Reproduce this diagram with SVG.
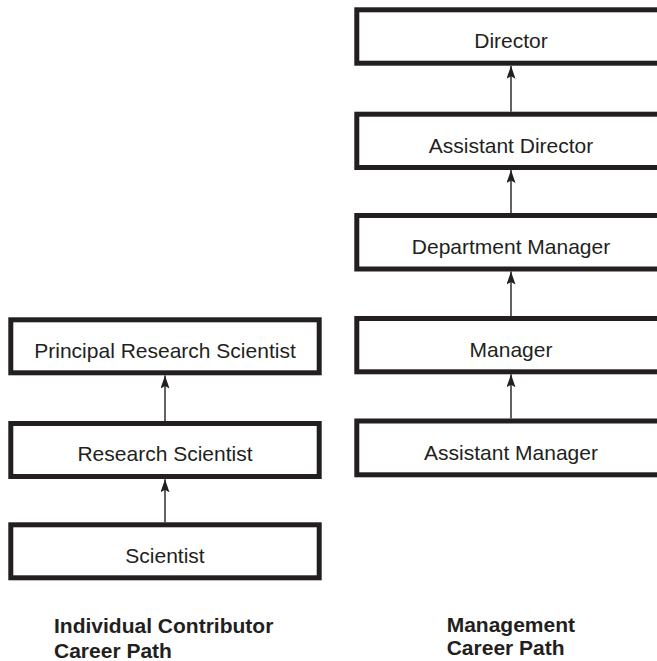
<svg xmlns="http://www.w3.org/2000/svg" width="657" height="661" viewBox="0 0 657 661">
<defs>
<style>
.box{fill:#fff;stroke:#231f20;stroke-width:5}
.lbl{font-family:"Liberation Sans",Arial,Helvetica,sans-serif;font-size:21px;fill:#231f20;text-anchor:middle}
.ttl{font-family:"Liberation Sans",Arial,Helvetica,sans-serif;font-size:21px;font-weight:bold;fill:#231f20}
.con{stroke:#231f20;stroke-width:1.4;fill:none;marker-end:url(#ah)}
</style>
<marker id="ah" markerUnits="userSpaceOnUse" markerWidth="14" markerHeight="10" refX="13" refY="4.5" orient="auto">
<path d="M0,0 L13,4.5 L0,9 L2.5,4.5 z" fill="#231f20"/>
</marker>
</defs>
<rect width="657" height="661" fill="#fff"/>
<g id="connectors">
<line class="con" x1="165" y1="421" x2="165" y2="375.5"/>
<line class="con" x1="165" y1="522.3" x2="165" y2="479.3"/>
<line class="con" x1="511" y1="111.7" x2="511" y2="65.8"/>
<line class="con" x1="511" y1="213" x2="511" y2="170"/>
<line class="con" x1="511" y1="316" x2="511" y2="271.5"/>
<line class="con" x1="511" y1="418.5" x2="511" y2="374.3"/>
</g>
<g id="principal-research-scientist">
<rect class="box" x="10.8" y="319.8" width="308.4" height="53"/>
<text class="lbl" x="165" y="358">Principal Research Scientist</text>
</g>
<g id="research-scientist">
<rect class="box" x="10.8" y="423.5" width="308.4" height="53"/>
<text class="lbl" x="165" y="461.3">Research Scientist</text>
</g>
<g id="scientist">
<rect class="box" x="10.8" y="524.8" width="308.4" height="53"/>
<text class="lbl" x="165" y="562.5">Scientist</text>
</g>
<g id="director">
<rect class="box" x="356.8" y="9.8" width="320" height="53.4"/>
<text class="lbl" x="511" y="48.3">Director</text>
</g>
<g id="assistant-director">
<rect class="box" x="356.8" y="114.2" width="320" height="53.3"/>
<text class="lbl" x="511" y="152.5">Assistant Director</text>
</g>
<g id="department-manager">
<rect class="box" x="356.8" y="215.5" width="320" height="53.5"/>
<text class="lbl" x="511" y="254">Department Manager</text>
</g>
<g id="manager">
<rect class="box" x="356.8" y="318.5" width="320" height="53.3"/>
<text class="lbl" x="511" y="357">Manager</text>
</g>
<g id="assistant-manager">
<rect class="box" x="356.8" y="421" width="320" height="53.8"/>
<text class="lbl" x="511" y="459.5">Assistant Manager</text>
</g>
<g id="individual-title">
<text class="ttl" x="54" y="633.3">Individual Contributor</text>
<text class="ttl" x="54" y="658.3">Career Path</text>
</g>
<g id="management-title">
<text class="ttl" x="446.7" y="631.7">Management</text>
<text class="ttl" x="446.7" y="655">Career Path</text>
</g>
</svg>
